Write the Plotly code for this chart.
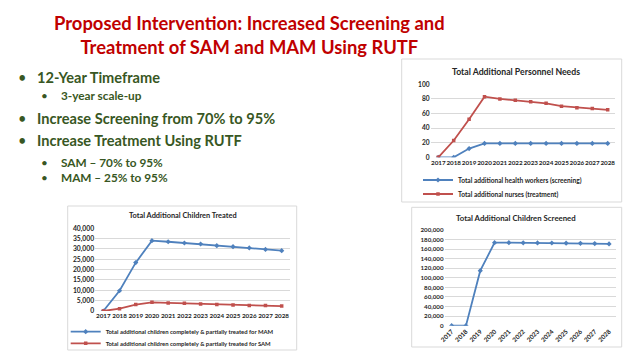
import plotly.graph_objects as go

W, H = 638, 359

years = [2017, 2018, 2019, 2020, 2021, 2022, 2023, 2024, 2025, 2026, 2027, 2028]
year_labels = [str(y) for y in years]

health_workers = [0, 0, 12, 19, 19, 19, 19, 19, 19, 19, 19, 19]
nurses = [0, 23, 52, 83, 80, 78, 76, 74, 70, 68, 67, 65]

treated_mam = [0, 9800, 23400, 34000, 33500, 32900, 32400, 31600, 31100, 30500, 29800, 29200]
treated_sam = [0, 1100, 3100, 4200, 3900, 3700, 3400, 3200, 2900, 2700, 2600, 2400]

screened = [0, 0, 115000, 173500, 173500, 173200, 173000, 172800, 172500, 172200, 171600, 170800]

title_text = ("Proposed Intervention: Increased Screening and<br>"
              "Treatment of SAM and MAM Using RUTF")
bullets = [
    (0, "12-Year Timeframe"),
    (1, "3-year scale-up"),
    (0, "Increase Screening from 70% to 95%"),
    (0, "Increase Treatment Using RUTF"),
    (1, "SAM – 70% to 95%"),
    (1, "MAM – 25% to 95%"),
]
bullet_y = [77, 96, 118.5, 140, 162, 177.5]

BLUE = "#4F81BD"
RED = "#C0504D"
FONT = "Lato"
GRID = "#D9D9D9"
TXT = "#262626"


def px(x):
    return x / W


def py(y):
    return 1 - y / H


fig = go.Figure()

# ---- Personnel chart (x, y) ----
fig.add_trace(go.Scatter(x=years, y=health_workers, mode="lines+markers",
                         name="Total additional health workers (screening)",
                         line=dict(color=BLUE, width=1.8),
                         marker=dict(symbol="diamond", size=4, color=BLUE),
                         xaxis="x", yaxis="y", legend="legend"))
fig.add_trace(go.Scatter(x=years, y=nurses, mode="lines+markers",
                         name="Total additional nurses (treatment)",
                         line=dict(color=RED, width=1.8),
                         marker=dict(symbol="square", size=3.5, color=RED),
                         xaxis="x", yaxis="y", legend="legend2"))

# ---- Treated chart (x2, y2) ----
fig.add_trace(go.Scatter(x=years, y=treated_mam, mode="lines+markers",
                         name="Total additional children completely & partially treated for MAM",
                         line=dict(color=BLUE, width=1.8),
                         marker=dict(symbol="diamond", size=4, color=BLUE),
                         xaxis="x2", yaxis="y2", legend="legend3"))
fig.add_trace(go.Scatter(x=years, y=treated_sam, mode="lines+markers",
                         name="Total additional children completely & partially treated for SAM",
                         line=dict(color=RED, width=1.8),
                         marker=dict(symbol="square", size=3.5, color=RED),
                         xaxis="x2", yaxis="y2", legend="legend4"))

# ---- Screened chart (x3, y3) ----
fig.add_trace(go.Scatter(x=years, y=screened, mode="lines+markers",
                         name="Screened",
                         line=dict(color=BLUE, width=1.8),
                         marker=dict(symbol="diamond", size=4, color=BLUE),
                         xaxis="x3", yaxis="y3", showlegend=False))


def tf(size):
    return dict(family=FONT, size=size, color=TXT, weight="bold")


axis_common = dict(showline=False, zeroline=False, ticks="", fixedrange=True,
                   automargin=False)

fig.update_layout(
    xaxis=dict(domain=[px(430.6), px(615.4)], range=[2016.5, 2028.5],
               tickmode="array", tickvals=years, ticktext=year_labels,
               tickangle=0, showgrid=False, tickfont=tf(6.3), anchor="y",
               **axis_common),
    yaxis=dict(domain=[py(157.3), py(84.3)], range=[0, 100], dtick=20,
               gridcolor=GRID, gridwidth=0.8, tickfont=tf(6.6), anchor="x",
               **axis_common),
    xaxis2=dict(domain=[px(95.2), px(289.8)], range=[2016.5, 2028.5],
                tickmode="array", tickvals=years, ticktext=year_labels,
                tickangle=0, showgrid=False, tickfont=tf(6.3), anchor="y2",
                **axis_common),
    yaxis2=dict(domain=[py(311), py(228.3)], range=[0, 40000], dtick=5000,
                tickformat=",", gridcolor=GRID, gridwidth=0.8,
                tickfont=tf(6.8), anchor="x2", **axis_common),
    xaxis3=dict(domain=[px(444.5), px(616.2)], range=[2016.5, 2028.5],
                tickmode="array", tickvals=years, ticktext=year_labels,
                tickangle=-45, showgrid=False, tickfont=tf(6.3), anchor="y3",
                **axis_common),
    yaxis3=dict(domain=[py(325.7), py(230)], range=[0, 200000], dtick=20000,
                tickformat=",", gridcolor=GRID, gridwidth=0.8,
                tickfont=tf(6.2), anchor="x3", **axis_common),
)

leg_common = dict(bgcolor="rgba(0,0,0,0)", xanchor="left",
                  yanchor="middle", itemwidth=30, borderwidth=0,
                  tracegroupgap=0)
fig.update_layout(
    legend=dict(x=px(458 - 40), y=py(180), font=tf(6.6), **leg_common),
    legend2=dict(x=px(458 - 40), y=py(194), font=tf(6.6), **leg_common),
    legend3=dict(x=px(105.7 - 40), y=py(331.7), font=tf(5.9), **leg_common),
    legend4=dict(x=px(105.7 - 40), y=py(343.3), font=tf(5.9), **leg_common),
)

# chart frames
shapes = []
for (x0, y0, x1, y1) in [(401.7, 59, 621.7, 202), (67.7, 206, 296.7, 350),
                         (411.7, 207.3, 621.7, 347)]:
    shapes.append(dict(type="rect", xref="paper", yref="paper",
                       x0=px(x0), x1=px(x1), y0=py(y1), y1=py(y0),
                       line=dict(color="#D9D9D9", width=1),
                       fillcolor="white", layer="below"))

annotations = []
# slide title
annotations.append(dict(text=title_text, x=px(249), y=py(34.5),
                        xref="paper", yref="paper", showarrow=False,
                        xanchor="center", yanchor="middle", align="center",
                        font=dict(family=FONT, size=18.4, color="#C00000",
                                  weight="bold")))
# bullets
for (lvl, txt), yy in zip(bullets, bullet_y):
    if lvl == 0:
        bx, tx, fs = 22, 35, 14.6
    else:
        bx, tx, fs = 44.5, 59, 11.8
    annotations.append(dict(text="•", x=px(bx), y=py(yy), xref="paper",
                            yref="paper", showarrow=False, xanchor="center",
                            yanchor="middle",
                            font=dict(family=FONT, size=fs, color="#385723")))
    annotations.append(dict(text=txt, x=px(tx), y=py(yy), xref="paper",
                            yref="paper", showarrow=False, xanchor="left",
                            yanchor="middle",
                            font=dict(family=FONT, size=fs, color="#385723",
                                      weight="bold")))
# chart titles
for txt, cx, cy, fs in [("Total Additional Personnel Needs", 515.5, 71, 8.7),
                        ("Total Additional Children Treated", 182.8, 215.7, 7.4),
                        ("Total Additional Children Screened", 516.3, 218.3, 7.8)]:
    annotations.append(dict(text=txt, x=px(cx), y=py(cy), xref="paper",
                            yref="paper", showarrow=False, xanchor="center",
                            yanchor="middle", font=tf(fs)))

fig.update_layout(
    width=W, height=H, margin=dict(l=0, r=0, t=0, b=0, autoexpand=False),
    paper_bgcolor="white", plot_bgcolor="rgba(0,0,0,0)",
    shapes=shapes, annotations=annotations, showlegend=True,
    font=dict(family=FONT),
)

fig.write_html("out.html",
               config={"displayModeBar": False},
               post_script="document.body.style.margin='0';"
                           "document.body.style.overflow='hidden';")
